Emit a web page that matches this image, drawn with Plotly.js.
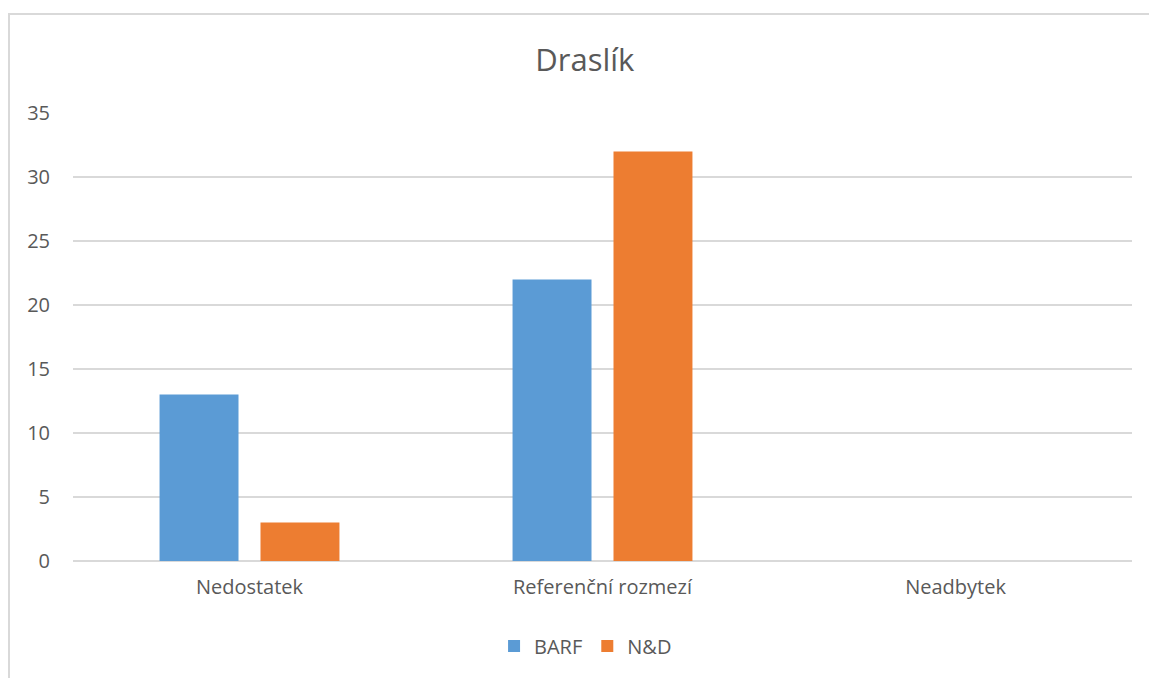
<!DOCTYPE html>
<html>
<head>
<meta charset="utf-8">
<script src="https://cdn.plot.ly/plotly-3.0.1.min.js"></script>
<style>
html,body{margin:0;padding:0;background:#fff;overflow:hidden;}
#frame{position:absolute;left:8px;top:13px;width:1300px;height:800px;border:2px solid #d9d9d9;box-sizing:border-box;}
#chart{position:absolute;left:0;top:0;width:1149px;height:678px;}
</style>
</head>
<body>
<div id="frame"></div>
<div id="chart"></div>
<script>
const categories = ["Nedostatek", "Referenční rozmezí", "Neadbytek"];
const barfValues = [13, 22, 0];
const ndValues = [3, 32, 0];
const seriesNames = ["BARF", "N&D"];
const yTicks = [0, 5, 10, 15, 20, 25, 30, 35];

const font = "'Open Sans', Lato, sans-serif";
const textColor = "#595959";

const data = [
  {type: "bar", name: seriesNames[0], x: categories, y: barfValues, marker: {color: "#5B9BD5"}},
  {type: "bar", name: seriesNames[1], x: categories, y: ndValues, marker: {color: "#ED7D31"}}
];

const layout = {
  width: 1149, height: 678,
  margin: {l: 73, r: 17, t: 113, b: 113},
  paper_bgcolor: "rgba(0,0,0,0)",
  plot_bgcolor: "rgba(0,0,0,0)",
  font: {family: font, color: textColor, size: 20},
  title: {text: "Draslík", x: 0.509, xanchor: "center", y: 1 - 60/678, yanchor: "middle",
          font: {family: font, size: 31, color: textColor}},
  barmode: "group",
  bargap: 0.428,
  bargroupgap: 0.218,
  showlegend: true,
  legend: {orientation: "h", x: 0.484, xanchor: "center", y: -0.19, yanchor: "middle",
           font: {family: font, size: 20, color: textColor}, itemwidth: 30, traceorder: "normal"},
  xaxis: {type: "category", showgrid: false, showline: false, zeroline: false,
          ticks: "", ticklabelstandoff: 12, tickfont: {family: font, size: 20, color: textColor}},
  yaxis: {range: [0, 35], tickvals: yTicks, ticktext: yTicks.map(String),
          showgrid: true, gridcolor: "#d9d9d9", gridwidth: 1.5,
          zeroline: true, zerolinecolor: "#d9d9d9", zerolinewidth: 1.5,
          showline: false, ticks: "", ticklabelstandoff: 22,
          tickfont: {family: font, size: 20, color: textColor}}
};

Plotly.newPlot("chart", data, layout, {displayModeBar: false, staticPlot: true});
</script>
</body>
</html>
